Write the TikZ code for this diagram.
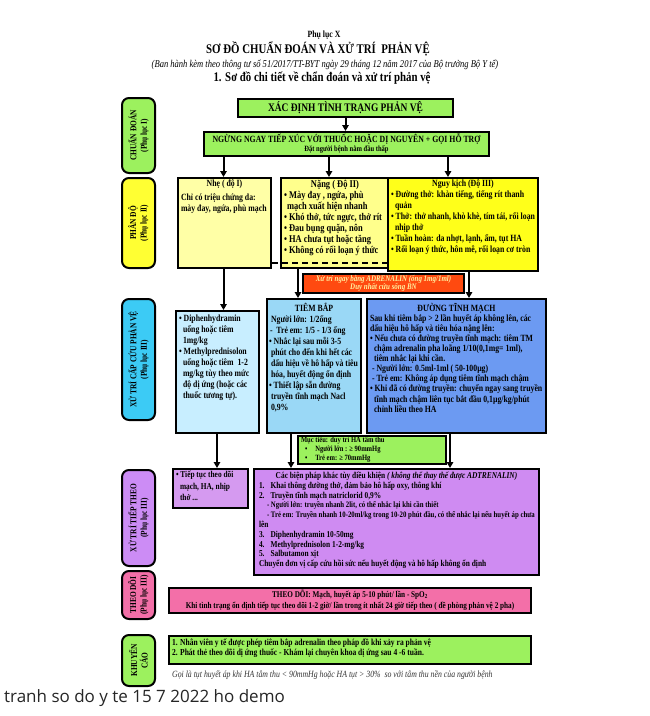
\documentclass[tikz,border=0pt]{standalone}
\usepackage{fontspec}
\setmainfont{Liberation Serif}[FakeStretch=0.82]
\newfontfamily\capfont{Open Sans}
\usetikzlibrary{arrows.meta}
\definecolor{cgreen}{HTML}{9CF15E}
\definecolor{cyl1}{HTML}{FFFFA6}
\definecolor{cyl2}{HTML}{FFFF8C}
\definecolor{cyl3}{HTML}{FFFF1A}
\definecolor{cylside}{HTML}{FFFF33}
\definecolor{cred}{HTML}{FF4A10}
\definecolor{ctxt}{HTML}{FFF2A0}
\definecolor{cdiph}{HTML}{C8EEFF}
\definecolor{ctb}{HTML}{9AD8F6}
\definecolor{cdtm}{HTML}{6C9AF2}
\definecolor{ccyan}{HTML}{3CCBF5}
\definecolor{cvio1}{HTML}{D59AF0}
\definecolor{cvio2}{HTML}{CF8BF2}
\definecolor{cvioside}{HTML}{CC8CF5}
\definecolor{cpink}{HTML}{F36FA8}
\newcommand{\bxt}[3]{\parbox[t][#2pt][t]{#1pt}{\raggedright #3}}
\begin{document}
\begin{tikzpicture}[x=1pt,y=-1pt,
  box/.style={draw=black, line width=2pt, inner xsep=3pt, inner ysep=2pt, anchor=north west},
  btxt/.style={font=\bfseries\fontsize{9.5}{11}\selectfont},
  side/.style={draw=black, line width=2pt, rounded corners=7pt, rotate=90, align=center, inner sep=0pt, font=\bfseries\fontsize{9}{10.5}\selectfont},
  arr/.style={line width=2pt, -{Triangle[length=6pt,width=6.5pt]}},
  conn/.style={line width=2pt}]
\useasboundingbox (0,0) rectangle (650,716);
\fill[white] (0,0) rectangle (650,716);

% titles
\node[font=\bfseries\fontsize{9.5}{10}\selectfont] (t1) at (324,35) {Phụ lục X};
\node[font=\bfseries\fontsize{13.2}{14}\selectfont] (t2) at (318,49) {SƠ ĐỒ CHUẨN ĐOÁN VÀ XỬ TRÍ \ PHẢN VỆ};
\node[font=\itshape\fontsize{10.4}{11}\selectfont] (t3) at (325,64.5) {(Ban hành kèm theo thông tư số 51/2017/TT-BYT ngày 29 tháng 12 năm 2017 của Bộ trưởng Bộ Y tế)};
\node[font=\bfseries\fontsize{13.2}{14}\selectfont] (t4) at (322,78) {1. Sơ đồ chi tiết về chẩn đoán và xử trí phản vệ};

% side labels
\node[side, fill=cgreen, minimum width=75pt, minimum height=33pt] (sd1) at (138.5,135.5) {CHUẨN ĐOÁN\\(Phụ lục I)};
\node[side, fill=cylside, minimum width=90pt, minimum height=33pt] (sd2) at (138.5,223) {PHÂN ĐỘ\\(Phụ lục II)};
\node[side, fill=ccyan, minimum width=121pt, minimum height=33pt] (sd3) at (138.5,359.5) {XỬ TRÍ CẤP CỨU PHẢN VỆ\\(Phụ lục III)};
\node[side, fill=cvioside, minimum width=96pt, minimum height=33pt] (sd4) at (138.5,518) {XỬ TRÍ TIẾP THEO\\(Phụ lục III)};
\node[side, fill=cpink, minimum width=48pt, minimum height=33pt] (sd5) at (138.5,595) {THEO DÕI\\(Phụ lục III)};
\node[side, fill=cgreen, minimum width=51pt, minimum height=33pt] (sd6) at (138.5,660.5) {KHUYẾN\\CÁO};

% top boxes
\node[box, fill=cgreen, minimum width=215pt, minimum height=18pt, font=\bfseries\fontsize{11.5}{12}\selectfont] (xacdinh) at (237,98) {XÁC ĐỊNH TÌNH TRẠNG PHẢN VỆ};
\node[box, fill=cgreen, minimum width=285pt, minimum height=24pt, align=center, inner ysep=1pt, font=\bfseries\fontsize{9.5}{9}\selectfont] (ngung) at (203,131) {NGỪNG NGAY TIẾP XÚC VỚI THUỐC HOẶC DỊ NGUYÊN + GỌI HỖ TRỢ\\{\fontsize{8}{9}\selectfont Đặt người bệnh nằm đầu thấp}};

% grade boxes
\node[box, btxt, fill=cyl1] (nhe) at (177,177) {\bxt{87}{86}{\centerline{Nhẹ ( độ I)}\vspace{3pt}
Chỉ có triệu chứng da:\\
mày đay, ngứa, phù mạch}};
\node[box, btxt, fill=cyl2, font=\bfseries\fontsize{10.3}{11}\selectfont] (nang) at (280,177) {\bxt{102}{86}{\centerline{Nặng ( Độ II)}
• Mày đay , ngứa, phù\\
\hspace*{3pt}mạch xuất hiện nhanh\\
• Khó thở, tức ngực, thở rít\\
• Đau bụng quặn, nôn\\
• HA chưa tụt hoặc tăng\\
• Không có rối loạn ý thức}};
\node[box, btxt, fill=cyl3] (nguy) at (387,177) {\bxt{144}{89}{\centerline{Nguy kịch (Độ III)}
• Đường thở: khàn tiếng, tiếng rít thanh\\
\hspace*{4pt}quản\\
• Thở: thở nhanh, khò khè, tím tái, rối loạn\\
\hspace*{4pt}nhịp thở\\
• Tuần hoàn: da nhợt, lạnh, ẩm, tụt HA\\
• Rối loạn ý thức, hôn mê, rối loạn cơ tròn}};

% adrenalin box
\node[box, fill=cred, minimum width=161pt, minimum height=19pt, align=center, inner ysep=1pt, text=ctxt, font=\bfseries\itshape\fontsize{8.5}{8.5}\selectfont] (red) at (302,273) {Xử trí ngay bằng ADRENALIN (ống 1mg/1ml)\\Duy nhất cứu sống BN};

% treatment boxes
\node[box, btxt, fill=cdiph] (diphen) at (175,310) {\bxt{77}{118}{\vspace{2pt}• Diphenhydramin\\
\hspace*{4pt}uống hoặc tiêm\\
\hspace*{4pt}1mg/kg\\
• Methylprednisolon\\
\hspace*{4pt}uống hoặc tiêm \ 1-2\\
\hspace*{4pt}mg/kg tùy theo mức\\
\hspace*{4pt}độ dị ứng (hoặc các\\
\hspace*{4pt}thuốc tương tự).}};
\node[box, btxt, fill=ctb, inner xsep=2pt] (tiembap) at (266,298) {\bxt{90}{130}{\vspace{2pt}\centerline{TIÊM BẮP}
\hspace*{2pt}Người lớn: 1/2ống\\
\hspace*{1pt}-\ \ Trẻ em: 1/5 - 1/3 ống\\
• Nhắc lại sau mỗi 3-5\\
\hspace*{2pt}phút cho đến khi hết các\\
\hspace*{2pt}dấu hiệu về hô hấp và tiêu\\
\hspace*{2pt}hóa, huyết động ổn định\\
• Thiết lập sẵn đường\\
\hspace*{2pt}truyền tĩnh mạch Nacl\\
\hspace*{2pt}0,9\%}};
\node[box, fill=cdtm, font=\bfseries\fontsize{9.5}{10.1}\selectfont] (dtm) at (366,298) {\bxt{173}{130}{\vspace{2pt}\centerline{ĐƯỜNG TĨNH MẠCH}
Sau khi tiêm bắp > 2 lần huyết áp không lên, các\\
dấu hiệu hô hấp và tiêu hóa nặng lên:\\
• Nếu chưa có đường truyền tĩnh mạch: tiêm TM\\
\hspace*{4pt}chậm adrenalin pha loãng 1/10(0,1mg= 1ml),\\
\hspace*{4pt}tiêm nhắc lại khi cần.\\
\hspace*{2pt}- Người lớn: 0.5ml-1ml ( 50-100µg)\\
\hspace*{2pt}- Trẻ em: Không áp dụng tiêm tĩnh mạch chậm\\
• Khi đã có đường truyền: chuyển ngay sang truyền\\
\hspace*{4pt}tĩnh mạch chậm liên tục bắt đầu 0,1µg/kg/phút\\
\hspace*{4pt}chỉnh liều theo HA}};
\node[box, fill=cgreen, inner ysep=1pt, font=\bfseries\fontsize{8}{9}\selectfont] (muctieu) at (297,435) {\bxt{142}{26}{Mục tiêu: duy trì HA tâm thu\\
\hspace*{4pt}•\hspace{8pt}Người lớn : ≥ 90mmHg\\
\hspace*{4pt}•\hspace{8pt}Trẻ em: ≥ 70mmHg}};

% follow-up boxes
\node[box, fill=cvio1, font=\bfseries\fontsize{9}{11.5}\selectfont] (tieptuc) at (172,468) {\bxt{69}{35}{• Tiếp tục theo dõi\\
\hspace*{4pt}mạch, HA, nhịp\\
\hspace*{4pt}thở ...}};
\node[box, fill=cvio2, font=\bfseries\fontsize{9}{9.8}\selectfont] (cacbien) at (253,468) {\bxt{279}{102}{\vspace{1pt}\centerline{\fontsize{9}{9.8}\selectfont Các biện pháp khác tùy điều khiện {\itshape ( không thể thay thế được ADTRENALIN)}}
\hspace*{2pt}1.\hspace{6pt}Khai thông đường thở, đảm bảo hô hấp oxy, thông khí\\
\hspace*{2pt}2.\hspace{6pt}Truyền tĩnh mạch natriclorid 0,9\%\\
{\fontsize{8.3}{9.8}\selectfont\hspace*{10pt}- Người lớn: truyền nhanh 2lit, có thể nhắc lại khi cần thiết\\
\hspace*{10pt}- Trẻ em: Truyền nhanh 10-20ml/kg trong 10-20 phút đầu, có thể nhắc lại nếu huyết áp chưa}\\
\hspace*{2pt}lên\\
\hspace*{2pt}3.\hspace{6pt}Diphenhydramin 10-50mg\\
\hspace*{2pt}4.\hspace{6pt}Methylprednisolon 1-2-mg/kg\\
\hspace*{2pt}5.\hspace{6pt}Salbutamon xịt\\
\hspace*{2pt}Chuyển đơn vị cấp cứu hồi sức nếu huyết động và hô hấp không ổn định}};

\node[box, fill=cpink, minimum width=362pt, minimum height=25pt, align=center, inner ysep=1pt, font=\bfseries\fontsize{8.8}{11}\selectfont] (theodoi) at (168,587) {THEO DÕI: Mạch, huyết áp 5-10 phút/ lần - SpO\textsubscript{2}\\Khi tình trạng ổn định tiếp tục theo dõi 1-2 giờ/ lần trong ít nhất 24 giờ tiếp theo ( đề phòng phản vệ 2 pha)};
\node[box, fill=cgreen, font=\bfseries\fontsize{9.2}{10}\selectfont] (khuyen) at (168,635) {\bxt{356}{24}{\vspace{1pt}1. Nhân viên y tế được phép tiêm bắp adrenalin theo pháp đồ khi xảy ra phản vệ\\
2. Phát thẻ theo dõi dị ứng thuốc - Khám lại chuyên khoa dị ứng sau 4 -6 tuần.}};

\node[anchor=west, inner sep=0pt, text=black!80, font=\itshape\fontsize{9.5}{9}\selectfont] (fn) at (172,675) {Gọi là tụt huyết áp khi HA tâm thu < 90mmHg hoặc HA tụt > 30\% \ so với tâm thu nền của người bệnh};
\node[anchor=west, inner sep=0pt, text=black!85, font=\capfont\fontsize{17}{18}\selectfont] (cap) at (4,698) {tranh so do y te 15 7 2022 ho demo};

% connectors
\draw[arr] (xacdinh.south) -- (xacdinh.south |- ngung.north);
\coordinate (c1) at ([xshift=-1pt]nhe.north);
\coordinate (c2) at ([xshift=-6pt]nang.north);
\coordinate (c3) at ([xshift=-15pt]nguy.north);
\draw[arr] (c1 |- ngung.south) -- (c1);
\draw[arr] (c2 |- ngung.south) -- (c2);
\draw[arr] (c3 |- ngung.south) -- (c3);
\coordinate (d1) at ([yshift=6pt]nhe.south east);
\draw[line width=2pt, dash pattern=on 6pt off 4pt] (d1) -- (d1 -| nguy.west);
\coordinate (c4) at ([xshift=-1pt]nhe.south);
\draw[arr] (c4) -- (c4 |- diphen.north);
\coordinate (c5) at ([xshift=18pt]nang.south west);
\draw[arr] (c5) -- (c5 |- tiembap.north);
\coordinate (c6) at ([xshift=6pt]nguy.south);
\draw[arr] (c6) -- (c6 |- dtm.north);
\coordinate (c7) at ([xshift=42pt]diphen.south west);
\draw[arr] (c7) -- (c7 |- tieptuc.north);
\coordinate (c8) at ([xshift=25pt]tiembap.south west);
\draw[arr] (c8) -- (c8 |- cacbien.north);
\coordinate (c9) at ([xshift=84pt]dtm.south west);
\draw[arr] (c9) -- (c9 |- cacbien.north);
\end{tikzpicture}
\end{document}
